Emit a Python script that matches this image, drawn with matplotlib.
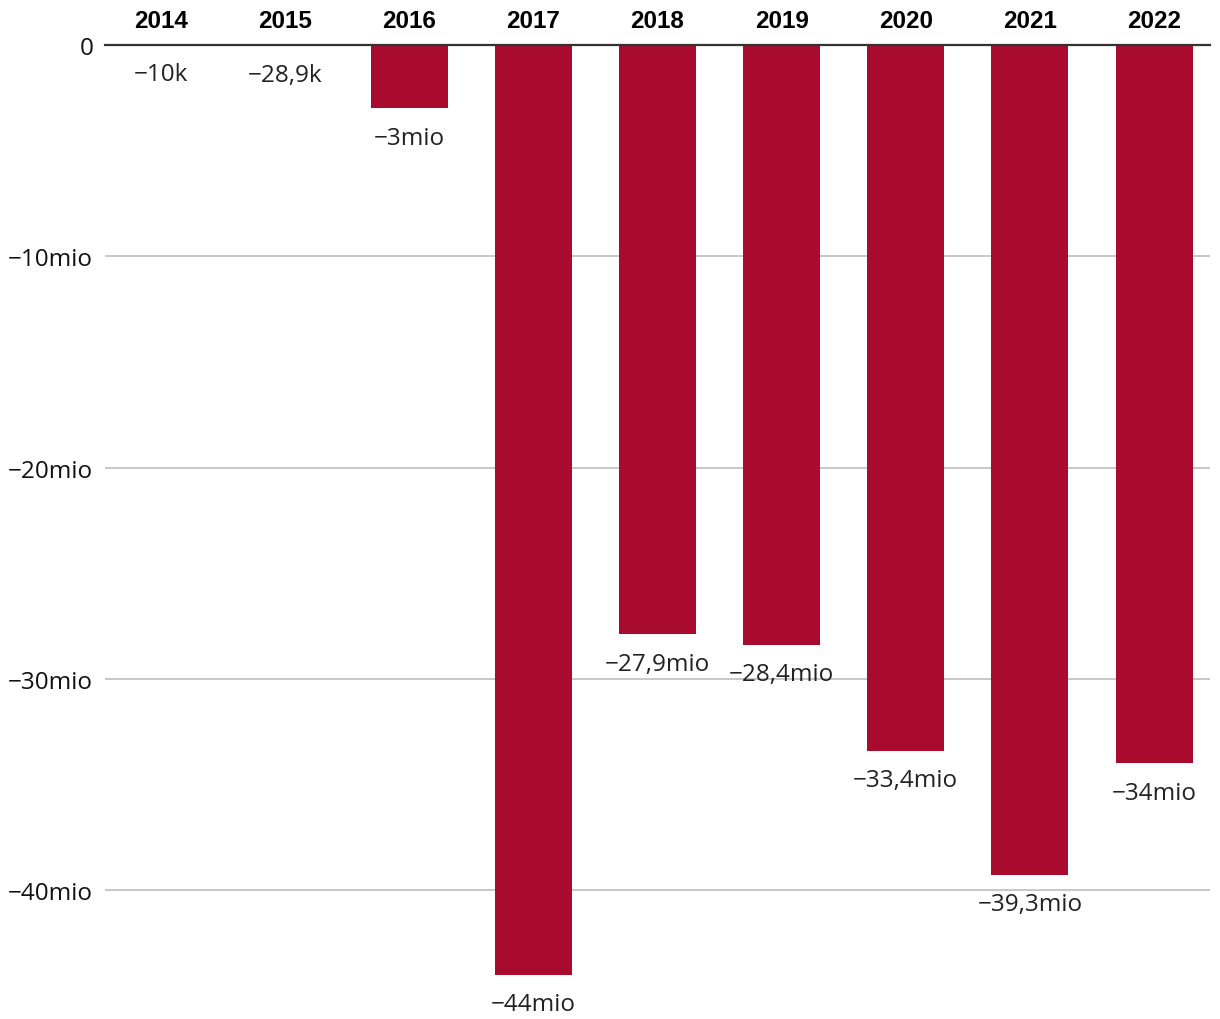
import matplotlib
matplotlib.use('Agg')
from matplotlib import pyplot as plt

years = ['2014', '2015', '2016', '2017', '2018', '2019', '2020', '2021', '2022']
values = [-10e3, -28.9e3, -3e6, -44e6, -27.9e6, -28.4e6, -33.4e6, -39.3e6, -34e6]
labels = ['−10k', '−28,9k', '−3mio', '−44mio', '−27,9mio', '−28,4mio',
          '−33,4mio', '−39,3mio', '−34mio']
yticks = [0, -10e6, -20e6, -30e6, -40e6]
ytick_labels = ['0', '−10mio', '−20mio', '−30mio', '−40mio']

plt.rcParams['font.family'] = ['Open Sans', 'DejaVu Sans']

fig = plt.figure(figsize=(12.2, 10.2), dpi=100)
ax = fig.add_axes([105 / 1220, 0, 1105 / 1220, 974 / 1020])

x = list(range(len(years)))
ax.bar(x, values, width=0.62, color='#a90b2e', zorder=3)

ax.set_xlim(-0.45, 8.45)
ax.set_ylim(-46.1e6, 0)
ax.set_yticks(yticks)
ax.set_yticklabels(ytick_labels, fontsize=17.5, color='#111111')
ax.tick_params(axis='y', length=0, pad=8.5)
ax.set_xticks([])
for s in ax.spines.values():
    s.set_visible(False)
ax.grid(axis='y', color='#bdbdbd', linewidth=1.2, zorder=0)
ax.axhline(0, color='#333333', linewidth=1.6, zorder=4, clip_on=False)

for xi, v, lab, yr in zip(x, values, labels, years):
    ax.annotate(lab, (xi, v), xytext=(0, -21), textcoords='offset points',
                ha='center', va='center', fontsize=17.5, color='#222222',
                annotation_clip=False)
    ax.annotate(yr, (xi, 0), xytext=(0, 17.5), textcoords='offset points',
                ha='center', va='center', fontsize=17.5, fontweight='bold',
                family='Liberation Sans', color='black', annotation_clip=False)

fig.savefig('out.png', dpi=100)
